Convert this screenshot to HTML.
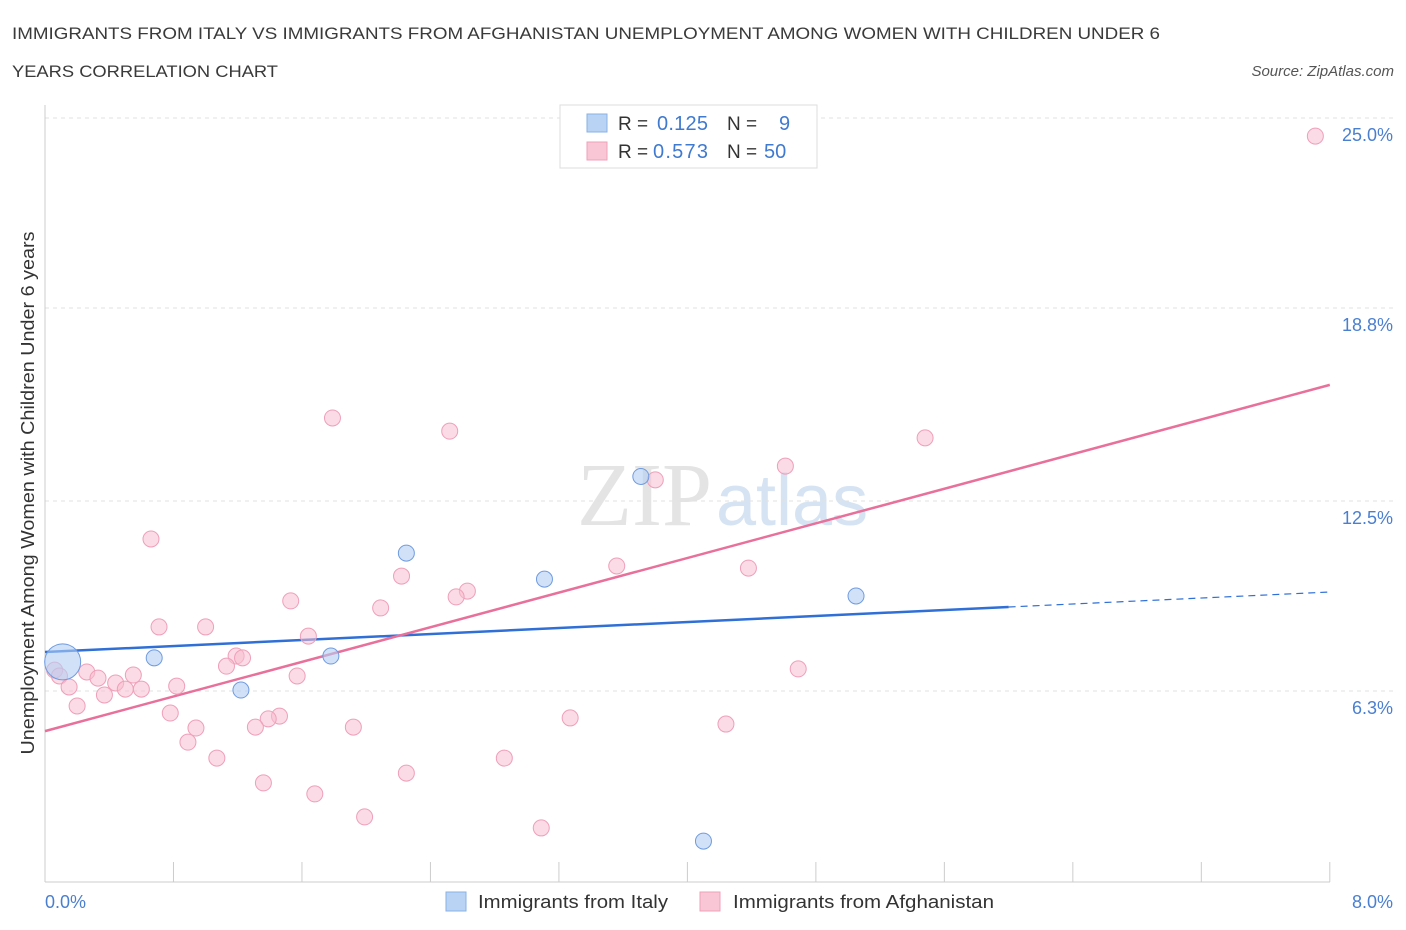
<!DOCTYPE html>
<html><head><meta charset="utf-8"><style>
body{margin:0;background:#fff;font-family:"Liberation Sans",sans-serif}
svg{display:block}
</style></head><body>
<svg id="chart" width="1406" height="930">
<text x="12" y="39" font-size="17" fill="#3a3a3a" textLength="1148" lengthAdjust="spacingAndGlyphs">IMMIGRANTS FROM ITALY VS IMMIGRANTS FROM AFGHANISTAN UNEMPLOYMENT AMONG WOMEN WITH CHILDREN UNDER 6</text>
<text x="12" y="77" font-size="17" fill="#3a3a3a" textLength="266" lengthAdjust="spacingAndGlyphs">YEARS CORRELATION CHART</text>
<text x="1394" y="76" font-size="15" font-style="italic" fill="#555" text-anchor="end">Source: ZipAtlas.com</text>
<text x="712" y="525" font-size="90" font-family="Liberation Serif,serif" fill="#e4e4e4" text-anchor="end">ZIP</text>
<text x="716" y="525" font-size="72" fill="#d6e3f3">atlas</text>
<g id="grid"></g>
<line x1="45" y1="105" x2="45" y2="882" stroke="#ccc"/>
<line x1="45" y1="882" x2="1330" y2="882" stroke="#ccc"/>
<g id="xticks"></g>
<g id="trend"></g>
<g id="points"></g>
<text x="45" y="908" font-size="18" fill="#4a7fd0">0.0%</text>
<text x="1393" y="908" font-size="18" fill="#4a7fd0" text-anchor="end">8.0%</text>
<text transform="translate(34,493) rotate(-90)" font-size="18" fill="#333" text-anchor="middle" textLength="523" lengthAdjust="spacingAndGlyphs">Unemployment Among Women with Children Under 6 years</text>
<g>
<rect x="560" y="105" width="257" height="63" fill="#fff" stroke="#ddd"/>
<rect x="587" y="114" width="20" height="18" fill="#b9d3f5" stroke="#8ab0e6"/>
<rect x="587" y="142" width="20" height="18" fill="#f9c6d5" stroke="#eea0b8"/>
<text x="618" y="130" font-size="19" fill="#333">R = </text><text x="657" y="130" font-size="20" fill="#3f7ad0" textLength="51">0.125</text>
<text x="727" y="130" font-size="19" fill="#333">N = </text><text x="779" y="130" font-size="20" fill="#3f7ad0">9</text>
<text x="618" y="158" font-size="19" fill="#333">R = </text><text x="653" y="158" font-size="20" fill="#3f7ad0" textLength="55">0.573</text>
<text x="727" y="158" font-size="19" fill="#333">N = </text><text x="764" y="158" font-size="20" fill="#3f7ad0">50</text>
</g>
<g>
<rect x="446" y="892" width="20" height="19" fill="#b9d3f5" stroke="#8ab0e6"/>
<text x="478" y="908" font-size="18" fill="#333" textLength="190" lengthAdjust="spacingAndGlyphs">Immigrants from Italy</text>
<rect x="700" y="892" width="20" height="19" fill="#f9c6d5" stroke="#eea0b8"/>
<text x="733" y="908" font-size="18" fill="#333" textLength="261" lengthAdjust="spacingAndGlyphs">Immigrants from Afghanistan</text>
</g>
</svg>
<script>
const yTicks=[25.0,18.8,12.5,6.3];
const yTickLabels=["25.0%","18.8%","12.5%","6.3%"];
const xTicks=[0,0.8,1.6,2.4,3.2,4.0,4.8,5.6,6.4,7.2,8.0];
const italyX=[0.11,0.68,1.22,1.78,2.25,3.11,3.71,5.05,4.10];
const italyY=[7.25,7.38,6.33,7.44,10.8,9.95,13.3,9.4,1.4];
const afgX=[7.91,1.79,2.52,5.48,4.61,3.80,0.66,3.56,4.38,2.22,2.63,2.56,1.53,2.09,0.71,1.00,1.64,1.19,1.23,1.13,4.69,0.06,0.09,0.26,0.33,0.55,0.44,0.15,0.50,0.60,0.82,1.57,0.37,0.20,0.78,1.46,1.39,3.27,0.94,1.31,1.92,4.24,0.89,1.07,2.86,2.25,1.36,1.68,1.99,3.09];
const afgY=[24.41,15.21,14.78,14.56,13.64,13.19,11.26,10.38,10.31,10.05,9.56,9.37,9.24,9.01,8.39,8.39,8.09,7.44,7.38,7.11,7.02,6.98,6.79,6.92,6.72,6.82,6.56,6.43,6.36,6.36,6.46,6.79,6.17,5.81,5.58,5.48,5.39,5.42,5.09,5.12,5.12,5.22,4.63,4.11,4.11,3.62,3.30,2.94,2.19,1.83];
const italyTrend=[7.57,9.04,9.53]; // at x=0,6,8
const afgTrend=[4.99,16.29]; // at x=0,8
const X=v=>45+v*160.6, Y=v=>884-v*30.64;
const NS="http://www.w3.org/2000/svg";
function mk(t,a,p){const e=document.createElementNS(NS,t);for(const k in a)e.setAttribute(k,a[k]);p.appendChild(e);return e;}
const grid=document.getElementById('grid');
yTicks.forEach((v,i)=>{
 const l=mk('line',{x1:45,x2:1395,y1:Y(v),y2:Y(v),stroke:'#e2e2e2','stroke-dasharray':'4,4'},grid);
 
 
 const t=mk('text',{x:1393,y:Y(v)+23,'font-size':18,fill:'#4a7fd0','text-anchor':'end'},grid);
 t.textContent=yTickLabels[i];
 
 
});
const xt=document.getElementById('xticks');
xTicks.forEach(v=>{
 const l=mk('line',{x1:X(v),x2:X(v),y1:862,y2:882,stroke:'#ccc'},xt);
 
 
});
const tr=document.getElementById('trend');
let a=mk('line',{x1:X(0),y1:Y(italyTrend[0]),x2:X(6),y2:Y(italyTrend[1]),stroke:'#2f6fd6','stroke-width':2.5},tr);


a=mk('line',{x1:X(6),y1:Y(italyTrend[1]),x2:X(8),y2:Y(italyTrend[2]),stroke:'#2f6fd6','stroke-width':1.2,'stroke-dasharray':'7,5'},tr);


a=mk('line',{x1:X(0),y1:Y(afgTrend[0]),x2:X(8),y2:Y(afgTrend[1]),stroke:'#e8709a','stroke-width':2.5},tr);


const pts=document.getElementById('points');
afgX.forEach((v,i)=>{
 const c=mk('circle',{cx:X(v),cy:Y(afgY[i]),r:8,fill:'rgba(248,190,208,0.55)',stroke:'#ef9fb9','stroke-width':1},pts);
 
 
});
italyX.forEach((v,i)=>{
 const c=mk('circle',{cx:X(v),cy:Y(italyY[i]),r:i===0?18:8,fill:'rgba(178,206,243,0.6)',stroke:'#6f9be0','stroke-width':1},pts);
 
 
});
</script>
</body></html>
